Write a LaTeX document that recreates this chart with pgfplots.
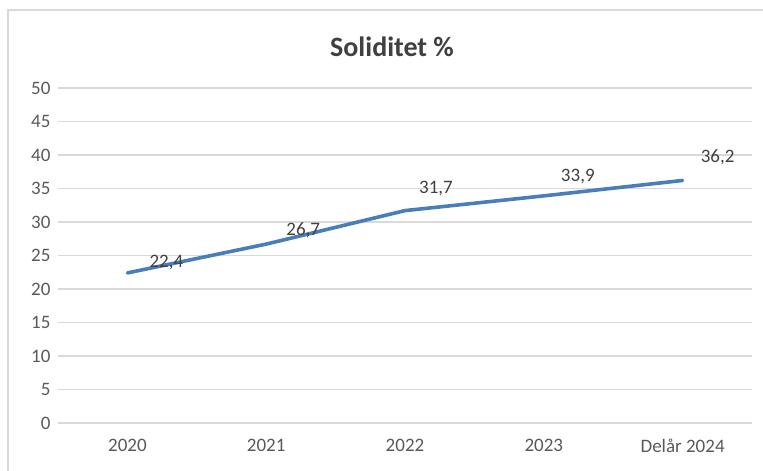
\documentclass[border=0pt]{standalone}
\usepackage{pgfplots}
\pgfplotsset{compat=1.18}
\usepackage{pgfplotstable}
\usepackage{fontspec}
\setmainfont{Carlito}
\definecolor{linec}{HTML}{4A7EBB}
\definecolor{gridc}{HTML}{D9D9D9}
\definecolor{txt}{HTML}{595959}
\definecolor{ttl}{HTML}{404040}
\pgfplotstableread{
x y dx dy lab
0 22.4 39 10 22,4
1 26.7 37 14 26,7
2 31.7 31 22 31,7
3 33.9 34 19 33,9
4 36.2 35 23 36,2
}\soliditet
\begin{document}
\begin{tikzpicture}[x=1pt,y=1pt]
\useasboundingbox (0,0) rectangle (763,471);
\draw[gridc, line width=1.2pt] (8,-10) rectangle (790,461);
\node[font=\bfseries\fontsize{28}{28}\selectfont, text=ttl] at (392,424) {Soliditet \%};
\begin{axis}[
  at={(58pt,48pt)}, anchor=south west,
  scale only axis, width=694pt, height=335pt,
  xmin=-0.5, xmax=4.5, ymin=0, ymax=50,
  ytick={0,5,...,50},
  xtick={0,...,4},
  xticklabels={2020,2021,2022,2023,Delår 2024},
  axis line style={draw=none},
  tick style={draw=none},
  ymajorgrids,
  grid style={gridc, line width=1.2pt},
  /pgf/number format/assume math mode=true,
  ticklabel style={font=\fontsize{19}{19}\selectfont, text=txt},
  yticklabel style={xshift=-4pt},
  xticklabel style={yshift=-13pt},
  clip=false,
]
\addplot[linec, line width=3.6pt, line cap=round, line join=round,
  nodes near coords, point meta=explicit symbolic,
  visualization depends on={\thisrow{dx} \as \dx},
  visualization depends on={\thisrow{dy} \as \dy},
  every node near coord/.append style={anchor=center, xshift=\dx pt, yshift=\dy pt,
     font=\fontsize{19}{19}\selectfont, text=ttl}
] table[x=x, y=y, meta=lab] {\soliditet};
\end{axis}
\end{tikzpicture}
\end{document}
